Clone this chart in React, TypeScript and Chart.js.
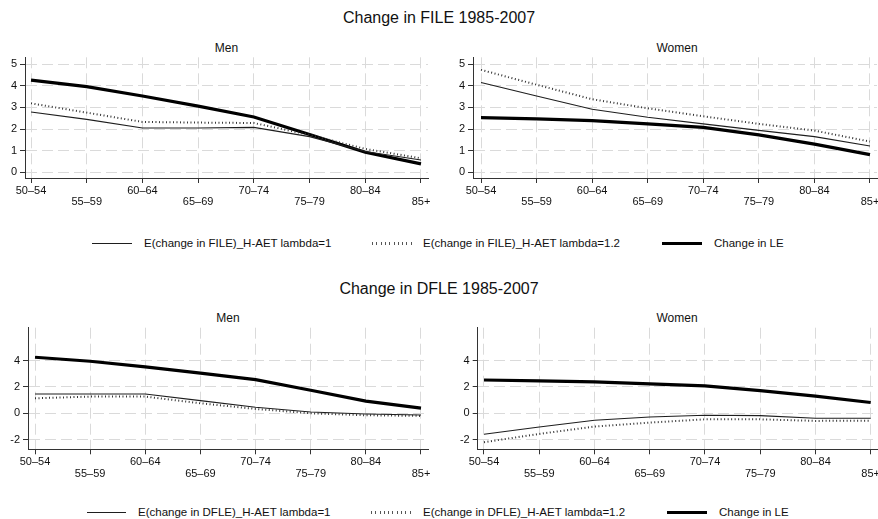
import React, { useEffect, useRef } from 'react';
import { Chart, registerables } from 'chart.js';

Chart.register(...registerables);

const FONT = "'Liberation Sans', Arial, Helvetica, sans-serif";

// ---------- data ----------
const AGE_GROUPS = ['50–54', '55–59', '60–64', '65–69', '70–74', '75–79', '80–84', '85+'];

const FILE_MEN_LAMBDA1 = [2.79, 2.45, 2.05, 2.05, 2.08, 1.65, 0.96, 0.57];
const FILE_MEN_LAMBDA12 = [3.19, 2.76, 2.33, 2.3, 2.28, 1.73, 1.08, 0.65];
const LE_MEN = [4.26, 3.96, 3.53, 3.06, 2.56, 1.75, 0.93, 0.39];

const FILE_WOMEN_LAMBDA1 = [4.15, 3.53, 2.92, 2.55, 2.24, 1.94, 1.65, 1.22];
const FILE_WOMEN_LAMBDA12 = [4.74, 4.05, 3.38, 2.96, 2.59, 2.24, 1.93, 1.42];
const LE_WOMEN = [2.53, 2.47, 2.39, 2.24, 2.08, 1.73, 1.3, 0.82];

const DFLE_MEN_LAMBDA1 = [1.47, 1.47, 1.47, 0.96, 0.46, 0.1, -0.05, -0.13];
const DFLE_MEN_LAMBDA12 = [1.14, 1.27, 1.27, 0.76, 0.33, 0.0, -0.15, -0.2];

const DFLE_WOMEN_LAMBDA1 = [-1.6, -1.04, -0.53, -0.28, -0.15, -0.18, -0.38, -0.38];
const DFLE_WOMEN_LAMBDA12 = [-2.2, -1.57, -1.01, -0.71, -0.46, -0.46, -0.58, -0.56];

const FILE_Y_TICKS = [0, 1, 2, 3, 4, 5];
const DFLE_Y_TICKS = [-2, 0, 2, 4];

const FILE_LEGEND = [
  'E(change in FILE)_H-AET lambda=1',
  'E(change in FILE)_H-AET lambda=1.2',
  'Change in LE',
];
const DFLE_LEGEND = [
  'E(change in DFLE)_H-AET lambda=1',
  'E(change in DFLE)_H-AET lambda=1.2',
  'Change in LE',
];

// ---------- layout ----------
type PanelLayout = {
  left: number; top: number; width: number; height: number;
  axisX: number; plotTop: number; plotRight: number; axisY: number;
  xMin: number; xMax: number; yMin: number; yMax: number;
};

const L_FILE_MEN: PanelLayout = {
  left: 0, top: 30, width: 440, height: 185,
  axisX: 25, plotTop: 57.3, plotRight: 428, axisY: 178,
  xMin: -0.108, xMax: 7.126, yMin: -0.264, yMax: 5.32,
};
const L_FILE_WOMEN: PanelLayout = {
  left: 440, top: 30, width: 438, height: 185,
  axisX: 473, plotTop: 57.3, plotRight: 877, axisY: 178,
  xMin: -0.144, xMax: 7.126, yMin: -0.264, yMax: 5.32,
};
const L_DFLE_MEN: PanelLayout = {
  left: 0, top: 300, width: 440, height: 185,
  axisX: 28, plotTop: 327.7, plotRight: 428, axisY: 449.3,
  xMin: -0.127, xMax: 7.127, yMin: -2.74, yMax: 6.51,
};
const L_DFLE_WOMEN: PanelLayout = {
  left: 440, top: 300, width: 438, height: 185,
  axisX: 477.7, plotTop: 327.7, plotRight: 877, axisY: 449.3,
  xMin: -0.114, xMax: 7.114, yMin: -2.74, yMax: 6.51,
};

const TEXT_COLOR = '#111';
const GRID_COLOR = '#dadada';
const AXIS_COLOR = '#333';

function Panel(props: {
  layout: PanelLayout;
  lambda1: number[];
  lambda12: number[];
  le: number[];
  yTicks: number[];
}) {
  const ref = useRef<HTMLCanvasElement | null>(null);
  const { layout, lambda1, lambda12, le, yTicks } = props;

  useEffect(() => {
    const L = layout;
    const toPts = (arr: number[]) => arr.map((y, i) => ({ x: i, y }));
    const chart = new Chart(ref.current as HTMLCanvasElement, {
      type: 'line',
      data: {
        datasets: [
          {
            label: 'lambda=1',
            data: toPts(lambda1),
            borderColor: '#1e1e1e',
            borderWidth: 1.1,
            pointRadius: 0,
            tension: 0,
          },
          {
            label: 'lambda=1.2',
            data: toPts(lambda12),
            borderColor: '#333',
            borderWidth: 2,
            borderDash: [1, 2.5],
            pointRadius: 0,
            tension: 0,
          },
          {
            label: 'Change in LE',
            data: toPts(le),
            borderColor: '#000',
            borderWidth: 3.2,
            pointRadius: 0,
            tension: 0,
          },
        ],
      } as any,
      options: {
        animation: false,
        responsive: false,
        maintainAspectRatio: false,
        events: [],
        layout: {
          padding: {
            left: 0,
            top: L.plotTop - L.top,
            right: L.left + L.width - L.plotRight,
            bottom: 0,
          },
        },
        plugins: {
          legend: { display: false },
          tooltip: { enabled: false },
          title: { display: false },
        },
        scales: {
          x: {
            type: 'linear',
            min: L.xMin,
            max: L.xMax,
            afterBuildTicks: (s: any) => {
              s.ticks = AGE_GROUPS.map((_, i) => ({ value: i }));
            },
            afterFit: (s: any) => {
              s.height = L.top + L.height - L.axisY;
              s.paddingLeft = 0;
              s.paddingRight = 0;
            },
            grid: {
              color: GRID_COLOR,
              lineWidth: 1,
              tickColor: AXIS_COLOR,
              tickLength: 5,
              tickWidth: 1,
            },
            border: { display: true, color: AXIS_COLOR, width: 1, dash: [11, 5] },
            ticks: {
              autoSkip: false,
              maxRotation: 0,
              minRotation: 0,
              padding: 2,
              color: TEXT_COLOR,
              font: { family: FONT, size: 11, lineHeight: 1.05 },
              callback: (v: any) => {
                const i = Math.round(Number(v));
                const lab = AGE_GROUPS[i] ?? '';
                return i % 2 === 0 ? [lab] : ['', lab];
              },
            },
          },
          y: {
            type: 'linear',
            min: L.yMin,
            max: L.yMax,
            afterBuildTicks: (s: any) => {
              s.ticks = yTicks.map((v) => ({ value: v }));
            },
            afterFit: (s: any) => {
              s.width = L.axisX - L.left;
              s.paddingTop = 0;
              s.paddingBottom = 0;
            },
            grid: {
              color: GRID_COLOR,
              lineWidth: 1,
              tickColor: AXIS_COLOR,
              tickLength: 5,
              tickWidth: 1,
            },
            border: { display: true, color: AXIS_COLOR, width: 1, dash: [11, 5] },
            ticks: {
              padding: 3,
              color: TEXT_COLOR,
              font: { family: FONT, size: 11 },
              callback: (v: any) => String(v),
            },
          },
        },
      } as any,
    });
    return () => chart.destroy();
  }, [layout, lambda1, lambda12, le, yTicks]);

  return (
    <canvas
      ref={ref}
      width={layout.width}
      height={layout.height}
      style={{
        position: 'absolute',
        left: layout.left,
        top: layout.top,
        width: layout.width,
        height: layout.height,
      }}
    />
  );
}

function Text(props: {
  x: number; y: number; size: number; text: string; center?: boolean;
}) {
  const { x, y, size, text, center } = props;
  return (
    <div
      style={{
        position: 'absolute',
        left: x,
        top: y,
        transform: center ? 'translate(-50%, -50%)' : 'translateY(-50%)',
        fontFamily: FONT,
        fontSize: size,
        lineHeight: 1,
        whiteSpace: 'nowrap',
        color: TEXT_COLOR,
      }}
    >
      {text}
    </div>
  );
}

type Sample = 'solid' | 'dotted' | 'thick';

function LegendSample(props: { kind: Sample; x1: number; x2: number; y: number }) {
  const { kind, x1, x2, y } = props;
  let style: React.CSSProperties = {
    position: 'absolute',
    left: x1,
    width: x2 - x1,
  };
  if (kind === 'solid') {
    style = { ...style, top: y - 0.5, height: 1.2, background: '#1e1e1e' };
  } else if (kind === 'dotted') {
    style = {
      ...style,
      top: y - 1.5,
      height: 3,
      background: 'repeating-linear-gradient(90deg, #555 0px, #555 1px, transparent 1px, transparent 4.3px)',
    };
  } else {
    style = { ...style, top: y - 1.6, height: 3.2, background: '#000' };
  }
  return <div style={style} />;
}

function Legend(props: {
  y: number;
  labels: string[];
  samples: { x1: number; x2: number; tx: number }[];
}) {
  const kinds: Sample[] = ['solid', 'dotted', 'thick'];
  return (
    <>
      {props.samples.map((s, i) => (
        <React.Fragment key={i}>
          <LegendSample kind={kinds[i]} x1={s.x1} x2={s.x2} y={props.y} />
          <Text x={s.tx} y={props.y} size={11.5} text={props.labels[i]} />
        </React.Fragment>
      ))}
    </>
  );
}

export default function App() {
  return (
    <div
      style={{
        position: 'absolute',
        left: 0,
        top: 0,
        width: 878,
        height: 519,
        background: '#fff',
        overflow: 'hidden',
      }}
    >
      <Text x={439} y={17.8} size={16} text="Change in FILE 1985-2007" center />
      <Text x={226.5} y={48.4} size={12} text="Men" center />
      <Text x={677} y={48.4} size={12} text="Women" center />
      <Panel layout={L_FILE_MEN} lambda1={FILE_MEN_LAMBDA1} lambda12={FILE_MEN_LAMBDA12} le={LE_MEN} yTicks={FILE_Y_TICKS} />
      <Panel layout={L_FILE_WOMEN} lambda1={FILE_WOMEN_LAMBDA1} lambda12={FILE_WOMEN_LAMBDA12} le={LE_WOMEN} yTicks={FILE_Y_TICKS} />
      <Legend
        y={243.5}
        labels={FILE_LEGEND}
        samples={[
          { x1: 92, x2: 132, tx: 144 },
          { x1: 372, x2: 413, tx: 423 },
          { x1: 662, x2: 702, tx: 714 },
        ]}
      />

      <Text x={439} y={288.5} size={16} text="Change in DFLE 1985-2007" center />
      <Text x={228} y={318.2} size={12} text="Men" center />
      <Text x={677} y={318.2} size={12} text="Women" center />
      <Panel layout={L_DFLE_MEN} lambda1={DFLE_MEN_LAMBDA1} lambda12={DFLE_MEN_LAMBDA12} le={LE_MEN} yTicks={DFLE_Y_TICKS} />
      <Panel layout={L_DFLE_WOMEN} lambda1={DFLE_WOMEN_LAMBDA1} lambda12={DFLE_WOMEN_LAMBDA12} le={LE_WOMEN} yTicks={DFLE_Y_TICKS} />
      <Legend
        y={512.8}
        labels={DFLE_LEGEND}
        samples={[
          { x1: 87, x2: 126, tx: 138 },
          { x1: 371, x2: 413, tx: 423 },
          { x1: 667, x2: 707, tx: 719 },
        ]}
      />
    </div>
  );
}
